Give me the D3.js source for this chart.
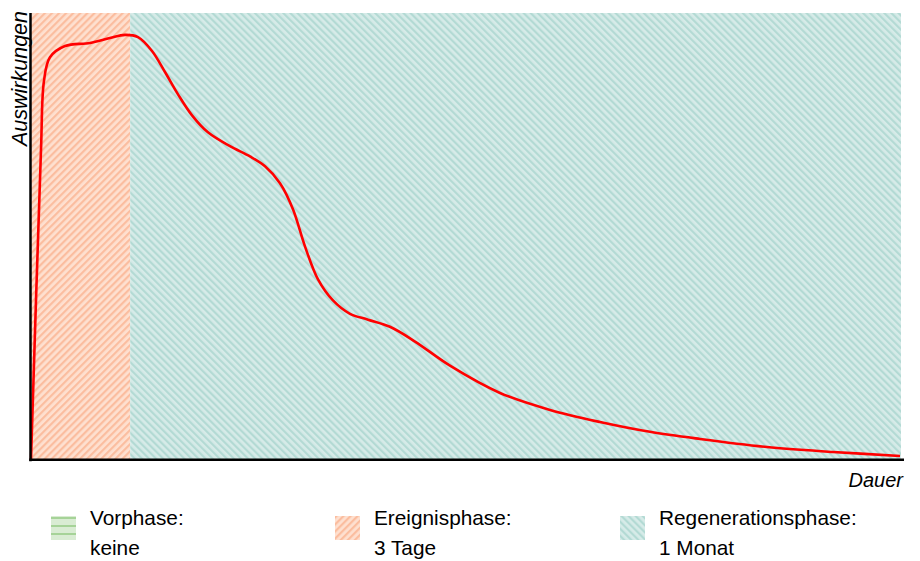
<!DOCTYPE html>
<html>
<head>
<meta charset="utf-8">
<script src="https://cdn.jsdelivr.net/npm/d3@7"></script>
<style>
  html, body { margin: 0; padding: 0; background: #fff; }
  svg { display: block; font-family: "Liberation Sans", Arial, sans-serif; }
</style>
</head>
<body>
<svg id="chart" width="920" height="561"></svg>
<script>
// ---- data ----
const phaseNames = ["Vorphase:", "Ereignisphase:", "Regenerationsphase:"];
const phaseLabels = ["keine", "3 Tage", "1 Monat"];
const phaseStart = [0, 0, 11.4];
const phaseEnd = [0, 11.4, 100];
const timeValues = [0, 1.15, 1.49, 2.18, 3.91, 6.78, 9.08, 10.80, 12.30, 13.91, 15.40, 16.90, 18.51, 20.34, 22.87, 25.17, 26.90, 28.62, 30.11, 31.49, 32.99, 34.71, 36.67, 38.74, 41.26, 44.14, 48.16, 53.91, 59.66, 65.40, 71.15, 76.90, 84.60, 92.18, 99.89];
const impactValues = [0, 69.5, 84.8, 90.1, 92.6, 93.3, 94.4, 95.1, 94.6, 91.5, 86.8, 81.8, 77.1, 73.3, 70.2, 67.9, 65.7, 61.9, 56.1, 47.8, 40.4, 35.7, 32.7, 31.4, 29.8, 26.5, 21.1, 15.0, 11.2, 8.5, 6.3, 4.7, 2.9, 1.8, 0.9];
const axisTitleX = "Dauer";
const axisTitleY = "Auswirkungen";

(function () {
// ---- layout ----
const svg = d3.select("#chart");
const pLeft = 31, pRight = 901, pTop = 13, pBottom = 460;
const x = d3.scaleLinear().domain([0, 100]).range([pLeft, pRight]);
const y = d3.scaleLinear().domain([0, 100]).range([pBottom, pTop]);

const fills = [
  {id: "pGreen", bg: "#d9ecd3", fg: "#a6d398", type: "h"},
  {id: "pOrange", bg: "#fee0d0", fg: "#fbbd9f", type: "fwd"},
  {id: "pTeal", bg: "#d6ebe8", fg: "#b3dad4", type: "back"}
];

const defs = svg.append("defs");
fills.forEach(f => {
  const p = defs.append("pattern").attr("id", f.id)
    .attr("patternUnits", "userSpaceOnUse");
  if (f.type === "h") {
    p.attr("width", 8).attr("height", 8);
    p.append("rect").attr("width", 8).attr("height", 8).attr("fill", f.bg);
    p.append("rect").attr("y", 1).attr("width", 8).attr("height", 2).attr("fill", f.fg);
  } else {
    p.attr("width", 5).attr("height", 5)
     .attr("patternTransform", f.type === "fwd" ? "rotate(45)" : "rotate(-45)");
    p.append("rect").attr("width", 5).attr("height", 5).attr("fill", f.bg);
    p.append("rect").attr("x", 0).attr("width", 2.2).attr("height", 5).attr("fill", f.fg);
  }
});

// phase backgrounds
svg.append("g").selectAll("rect")
  .data(phaseNames.map((n, i) => ({n, i})).filter(d => phaseEnd[d.i] > phaseStart[d.i]))
  .join("rect")
  .attr("x", d => x(phaseStart[d.i]))
  .attr("y", pTop)
  .attr("width", d => x(phaseEnd[d.i]) - x(phaseStart[d.i]))
  .attr("height", pBottom - pTop)
  .attr("fill", d => `url(#${fills[d.i].id})`);

// curve
const line = d3.line()
  .x((d, i) => x(timeValues[i]))
  .y(d => y(d))
  .curve(d3.curveCatmullRom.alpha(0.5));
svg.append("path")
  .datum(impactValues)
  .attr("d", line)
  .attr("fill", "none")
  .attr("stroke", "#ff0000")
  .attr("stroke-width", 2.6);

// axes (lines only)
svg.append("line").attr("x1", 30.5).attr("x2", 30.5).attr("y1", pTop).attr("y2", pBottom + 1.2)
  .attr("stroke", "#000").attr("stroke-width", 2.5);
svg.append("line").attr("x1", 29.3).attr("x2", 904).attr("y1", 459.7).attr("y2", 459.7)
  .attr("stroke", "#000").attr("stroke-width", 2.5);

// axis titles
svg.append("text").text(axisTitleX)
  .attr("x", 903).attr("y", 487)
  .attr("text-anchor", "end")
  .attr("font-style", "italic")
  .attr("font-size", 20)
  .attr("fill", "#000");
svg.append("text").text(axisTitleY)
  .attr("transform", "translate(27,11) rotate(-90)")
  .attr("text-anchor", "end")
  .attr("font-style", "italic")
  .attr("font-size", 21.5)
  .attr("fill", "#000");

// legend
const legendX = [51, 335, 620];
const lg = svg.append("g").selectAll("g")
  .data(phaseNames.map((n, i) => i))
  .join("g")
  .attr("transform", i => `translate(${legendX[i]},516)`);
lg.append("rect").attr("width", 25).attr("height", 24)
  .attr("fill", i => `url(#${fills[i].id})`);
lg.append("text").text(i => phaseNames[i])
  .attr("x", 39).attr("y", 8.5).attr("font-size", 20.8).attr("fill", "#000");
lg.append("text").text(i => phaseLabels[i])
  .attr("x", 39).attr("y", 39).attr("font-size", 20.8).attr("fill", "#000");
})();
</script>
</body>
</html>
